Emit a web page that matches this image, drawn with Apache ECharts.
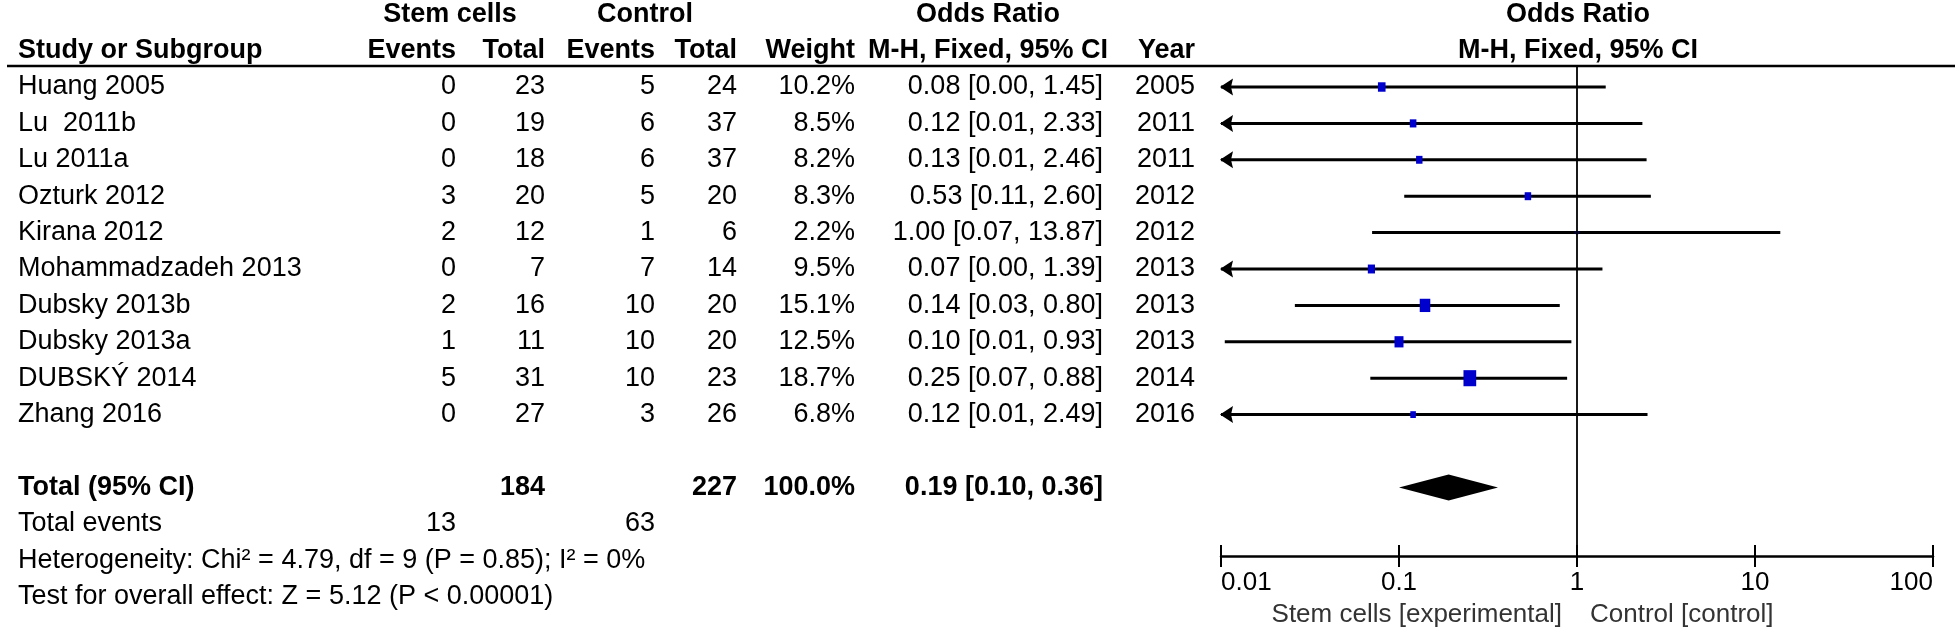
<!DOCTYPE html>
<html><head><meta charset="utf-8">
<script src="https://cdn.jsdelivr.net/npm/echarts@6/dist/echarts.min.js"></script>
<style>html,body{margin:0;padding:0;background:#fff}#c{width:1958px;height:632px}</style>
</head><body><div id="c"></div>
<script>
// ---- data ----
const studies = ['Huang 2005','Lu  2011b','Lu 2011a','Ozturk 2012','Kirana 2012','Mohammadzadeh 2013','Dubsky 2013b','Dubsky 2013a','DUBSKÝ 2014','Zhang 2016'];
const expEvents = [0,0,0,3,2,0,2,1,5,0];
const expTotal = [23,19,18,20,12,7,16,11,31,27];
const ctrlEvents = [5,6,6,5,1,7,10,10,10,3];
const ctrlTotal = [24,37,37,20,6,14,20,20,23,26];
const weights = [10.2,8.5,8.2,8.3,2.2,9.5,15.1,12.5,18.7,6.8];
const orValues = [0.08,0.12,0.13,0.53,1.00,0.07,0.14,0.10,0.25,0.12];
const ciLow = [0.004,0.006,0.007,0.107,0.0706,0.003,0.026,0.0105,0.069,0.006];
const ciHigh = [1.45,2.33,2.46,2.60,13.87,1.39,0.80,0.93,0.88,2.49];
const years = [2005,2011,2011,2012,2012,2013,2013,2013,2014,2016];
const totalExp = 184, totalCtrl = 227, totalWeight = 100.0;
const pooledOR = 0.19, pooledLow = 0.10, pooledHigh = 0.36;
const totalEventsExp = 13, totalEventsCtrl = 63;
const heterogeneityText = 'Heterogeneity: Chi² = 4.79, df = 9 (P = 0.85); I² = 0%';
const overallText = 'Test for overall effect: Z = 5.12 (P < 0.00001)';
const tickLabels = ['0.01','0.1','1','10','100'];
const favourLeft = 'Stem cells [experimental]';
const favourRight = 'Control [control]';

// ---- layout ----
const W = 1958, H = 632;
const FONT = '"Liberation Sans", Arial, sans-serif';
const FS = 27;
const ROW0 = 87, ROWH = 36.4;
const PLOT_TOP = 66, AXIS_Y = 556, PLOT_L = 1221, PLOT_R = 1933;
const COL = {name:18, expEv:456, expTot:545, ctlEv:655, ctlTot:737, weight:855, or:1103, orC:988, year:1195, grpExp:450, grpCtl:645, plotC:1578};
const TOTAL_ROW = 11;

function txt(x, y, text, align, bold, color) {
  return {type:'text', style:{text:String(text), x:x, y:y, fill:color||'#000',
    font:(bold?'bold ':'')+FS+'px '+FONT, align:align, verticalAlign:'middle'}};
}
function fmt2(v){ return v.toFixed(2); }
function ciText(o,l,h){ return fmt2(o)+' ['+fmt2(l)+', '+fmt2(h)+']'; }

const chart = echarts.init(document.getElementById('c'), null, {renderer:'canvas'});

const tableRows = studies.map((s,i)=>[0,i]);

const option = {
  animation:false,
  backgroundColor:'#fff',
  grid:[
    {left:0, right:0, top:0, bottom:0},
    {left:PLOT_L, right:W-PLOT_R, top:PLOT_TOP, bottom:H-AXIS_Y}
  ],
  xAxis:[
    {gridIndex:0, type:'value', min:0, max:W, show:false},
    {gridIndex:1, type:'log', logBase:10, min:0.01, max:100, splitNumber:4, position:'bottom',
      axisLine:{show:true, onZero:false, lineStyle:{color:'#000', width:2.5}},
      axisTick:{show:true, inside:true, length:11, lineStyle:{color:'#000', width:2}},
      axisLabel:{show:false}, splitLine:{show:false}, minorTick:{show:false}},
    {gridIndex:1, type:'log', logBase:10, min:0.01, max:100, splitNumber:4, position:'bottom', offset:0,
      axisLine:{show:false, onZero:false},
      axisTick:{show:true, inside:false, length:11, lineStyle:{color:'#000', width:2}},
      axisLabel:{show:true, margin:14, fontSize:26, fontFamily:FONT, color:'#000',
        alignMinLabel:'left', alignMaxLabel:'right',
        formatter:function(v){ const e=Math.round(Math.log10(v)); return tickLabels[e+2]||''; }},
      splitLine:{show:false}}
  ],
  yAxis:[
    {gridIndex:0, type:'value', inverse:true, min:(0-ROW0)/ROWH, max:(H-ROW0)/ROWH, show:false},
    {gridIndex:1, type:'value', inverse:true, min:(PLOT_TOP-ROW0)/ROWH, max:(AXIS_Y-ROW0)/ROWH, show:false}
  ],
  graphic:[
    {type:'line', shape:{x1:7, y1:66, x2:1955, y2:66}, style:{stroke:'#000', lineWidth:2.5}},
    {type:'text', style:{text:favourLeft, x:1562, y:615, align:'right', verticalAlign:'middle', fill:'#333', font:'26px '+FONT}},
    {type:'text', style:{text:favourRight, x:1590, y:615, align:'left', verticalAlign:'middle', fill:'#333', font:'26px '+FONT}}
  ],
  series:[
    // header rows
    {type:'custom', xAxisIndex:0, yAxisIndex:0, data:[[0,-2]], silent:true,
      renderItem:function(params, api){
        const y1 = api.coord([0,-2])[1], y2 = api.coord([0,-1])[1];
        return {type:'group', children:[
          txt(COL.grpExp, y1, 'Stem cells', 'center', true),
          txt(COL.grpCtl, y1, 'Control', 'center', true),
          txt(COL.orC, y1, 'Odds Ratio', 'center', true),
          txt(COL.plotC, y1, 'Odds Ratio', 'center', true),
          txt(COL.name, y2, 'Study or Subgroup', 'left', true),
          txt(COL.expEv, y2, 'Events', 'right', true),
          txt(COL.expTot, y2, 'Total', 'right', true),
          txt(COL.ctlEv, y2, 'Events', 'right', true),
          txt(COL.ctlTot, y2, 'Total', 'right', true),
          txt(COL.weight, y2, 'Weight', 'right', true),
          txt(COL.orC, y2, 'M-H, Fixed, 95% CI', 'center', true),
          txt(COL.year, y2, 'Year', 'right', true),
          txt(COL.plotC, y2, 'M-H, Fixed, 95% CI', 'center', true)
        ]};
      }},
    // study rows
    {type:'custom', xAxisIndex:0, yAxisIndex:0, data:tableRows, silent:true,
      renderItem:function(params, api){
        const i = params.dataIndex;
        const y = api.coord([0, api.value(1)])[1];
        return {type:'group', children:[
          txt(COL.name, y, studies[i], 'left'),
          txt(COL.expEv, y, expEvents[i], 'right'),
          txt(COL.expTot, y, expTotal[i], 'right'),
          txt(COL.ctlEv, y, ctrlEvents[i], 'right'),
          txt(COL.ctlTot, y, ctrlTotal[i], 'right'),
          txt(COL.weight, y, weights[i].toFixed(1)+'%', 'right'),
          txt(COL.or, y, ciText(orValues[i], ciLow[i], ciHigh[i]), 'right'),
          txt(COL.year, y, years[i], 'right')
        ]};
      }},
    // summary rows
    {type:'custom', xAxisIndex:0, yAxisIndex:0, data:[[0,TOTAL_ROW]], silent:true,
      renderItem:function(params, api){
        const yT = api.coord([0,TOTAL_ROW])[1], yE = api.coord([0,TOTAL_ROW+1])[1];
        const yH = api.coord([0,TOTAL_ROW+2])[1], yO = api.coord([0,TOTAL_ROW+3])[1];
        return {type:'group', children:[
          txt(COL.name, yT, 'Total (95% CI)', 'left', true),
          txt(COL.expTot, yT, totalExp, 'right', true),
          txt(COL.ctlTot, yT, totalCtrl, 'right', true),
          txt(COL.weight, yT, totalWeight.toFixed(1)+'%', 'right', true),
          txt(COL.or, yT, ciText(pooledOR, pooledLow, pooledHigh), 'right', true),
          txt(COL.name, yE, 'Total events', 'left'),
          txt(COL.expEv, yE, totalEventsExp, 'right'),
          txt(COL.ctlEv, yE, totalEventsCtrl, 'right'),
          txt(COL.name, yH, heterogeneityText, 'left'),
          txt(COL.name, yO, overallText, 'left')
        ]};
      }},
    // CI lines + squares
    {type:'custom', xAxisIndex:1, yAxisIndex:1, silent:true, clip:false,
      data:studies.map((s,i)=>[orValues[i], i, ciLow[i], ciHigh[i], weights[i]]),
      renderItem:function(params, api){
        const row = api.value(1);
        const y = api.coord([1,row])[1];
        const minX = api.coord([0.01,row])[0];
        const lo = api.value(2), hi = api.value(3), w = api.value(4);
        const arrow = lo < 0.01;
        const x1 = arrow ? minX : api.coord([lo,row])[0];
        const x2 = api.coord([hi,row])[0];
        const xc = api.coord([api.value(0),row])[0];
        const sw = 0.6*w+1.5, sh = 0.78*w+1.5;
        const ch = [{type:'line', shape:{x1:x1, y1:y, x2:x2, y2:y}, style:{stroke:'#000', lineWidth:3}}];
        if (arrow) ch.push({type:'polygon', shape:{points:[[x1-1,y],[x1+12,y-8.5],[x1+10,y],[x1+12,y+8.5]]}, style:{fill:'#000'}});
        ch.push({type:'rect', shape:{x:xc-sw/2, y:y-sh/2, width:sw, height:sh}, style:{fill:'#0000cc'}});
        return {type:'group', children:ch};
      },
      markLine:{silent:true, symbol:['none','none'], label:{show:false},
        lineStyle:{color:'#000', width:1.8, type:'solid'}, data:[{xAxis:1}]}
    },
    // pooled diamond
    {type:'custom', xAxisIndex:1, yAxisIndex:1, silent:true,
      data:[[pooledOR, TOTAL_ROW, pooledLow, pooledHigh]],
      renderItem:function(params, api){
        const row = api.value(1);
        const c = api.coord([api.value(0),row]);
        const l = api.coord([api.value(2),row]);
        const r = api.coord([api.value(3),row]);
        const hh = 13;
        return {type:'polygon', shape:{points:[[l[0],c[1]],[c[0],c[1]-hh],[r[0],c[1]],[c[0],c[1]+hh]]}, style:{fill:'#000'}};
      }}
  ]
};
chart.setOption(option);
</script>
</body></html>
